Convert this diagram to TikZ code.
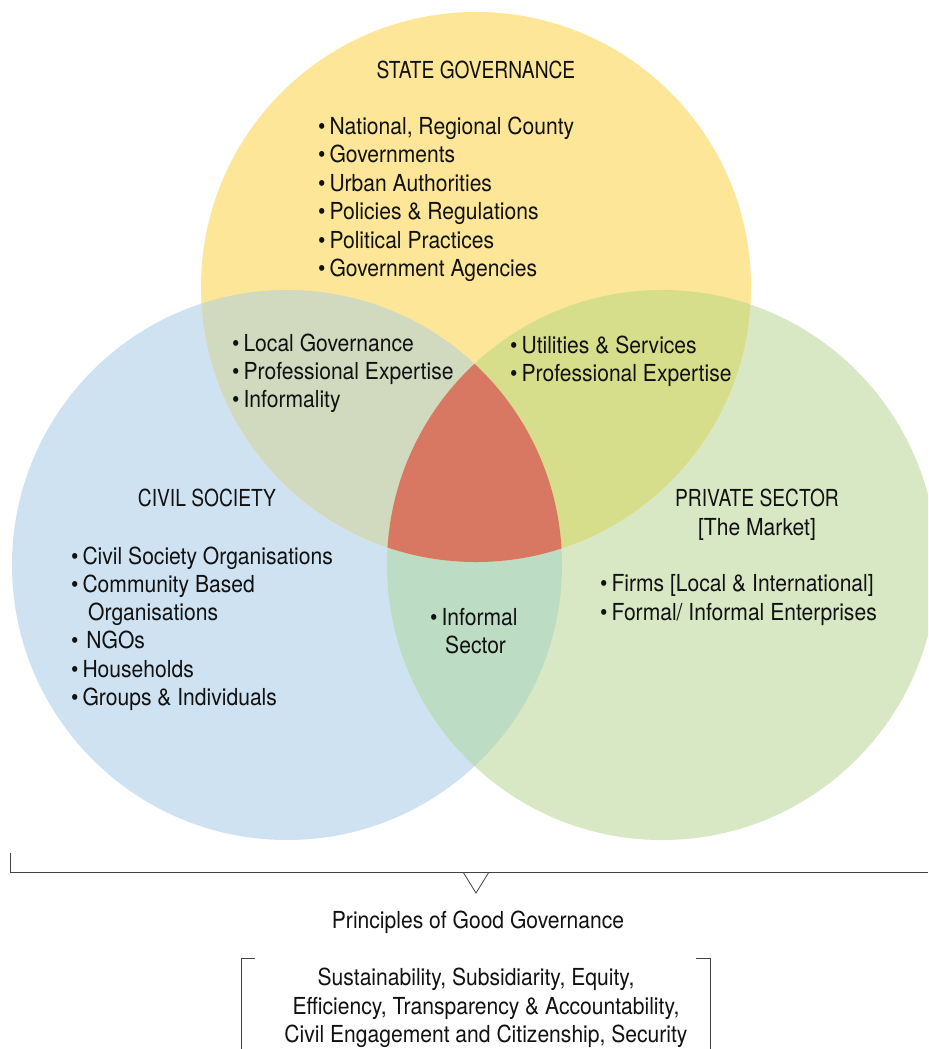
\documentclass[tikz,border=0pt]{standalone}
\usepackage{fontspec}
\setmainfont{TeX Gyre Heros}[FakeStretch=0.9]
\newfontfamily\capsfont{TeX Gyre Heros}[FakeStretch=0.82]
\definecolor{GGYellow}{HTML}{FDE698}
\definecolor{GGBlue}{HTML}{CFE2F2}
\definecolor{GGGreen}{HTML}{D8E8C4}
\definecolor{GGYellowBlue}{HTML}{D1D9BF}
\definecolor{GGYellowGreen}{HTML}{D6DD8B}
\definecolor{GGBlueGreen}{HTML}{BCDCC4}
\definecolor{GGRed}{HTML}{D97862}
\definecolor{GGText}{HTML}{111111}
\definecolor{GGLine}{HTML}{444444}
\tikzset{
  item/.style={anchor=mid west,inner sep=0pt,yshift=-0.13cm,text=GGText,font=\fontsize{20}{24}\selectfont},
  title/.style={anchor=mid,inner sep=0pt,yshift=-0.13cm,text=GGText,font=\fontsize{20}{24}\selectfont},
  captitle/.style={title,font=\fontsize{20}{24}\capsfont},
  rule/.style={GGLine,line width=0.7pt}
}
\begin{document}
\begin{tikzpicture}[x=0.03cm,y=-0.03cm]
\path[use as bounding box] (0,0) rectangle (928,1049);
\coordinate (sg) at (476,287);
\coordinate (cs) at (287,565);
\coordinate (ps) at (662,565);
% circles
\begin{scope}
\clip (0,0) rectangle (928,1049);
\fill[GGBlue] (cs) circle (8.25cm);
\fill[GGGreen] (ps) circle (8.25cm);
\fill[GGYellow] (sg) circle (8.25cm);
\begin{scope}
\clip (cs) circle (8.25cm);
\clip (ps) circle (8.25cm);
\fill[GGBlueGreen] (0,0) rectangle (928,1049);
\end{scope}
\begin{scope}
\clip (sg) circle (8.25cm);
\fill[GGYellowBlue] (cs) circle (8.25cm);
\fill[GGYellowGreen] (ps) circle (8.25cm);
\clip (cs) circle (8.25cm);
\fill[GGRed] (ps) circle (8.25cm);
\end{scope}
\end{scope}
% state governance
\node[captitle] (sgtitle) at (476,71) {STATE GOVERNANCE};
\foreach \txt [count=\i] in {{National, Regional County},Governments,Urban Authorities,
  Policies \& Regulations,Political Practices,Government Agencies}
  \node[item] (sg\i) at (318,127+28.4*\i-28.4) {\textbullet\,\txt};
% overlaps
\foreach \txt [count=\i] in {Local Governance,Professional Expertise,Informality}
  \node[item] (sc\i) at (232,344+28*\i-28) {\textbullet\,\txt};
\foreach \txt [count=\i] in {Utilities \& Services,Professional Expertise}
  \node[item] (sp\i) at (510,346+28*\i-28) {\textbullet\,\txt};
\node[item] (cp1) at (430,618) {\textbullet\,Informal};
\node[item] (cp2) at (445,646) {Sector};
% civil society
\node[captitle] (cstitle) at (207,499) {CIVIL SOCIETY};
\node[item] (cs1) at (71,557) {\textbullet\,Civil Society Organisations};
\node[item] (cs2) at (71,585) {\textbullet\,Community Based};
\node[item] (cs3) at (88,613) {Organisations};
\node[item] (cs4) at (71,641) {\textbullet\,\,NGOs};
\node[item] (cs5) at (71,670) {\textbullet\,Households};
\node[item] (cs6) at (71,698) {\textbullet\,Groups \& Individuals};
% private sector
\node[captitle] (pstitle) at (757,499) {PRIVATE SECTOR};
\node[title] (pssub) at (757,528) {[The Market]};
\node[item] (ps1) at (600,584) {\textbullet\,Firms [Local \& International]};
\node[item] (ps2) at (600,613) {\textbullet\,Formal/ Informal Enterprises};
% principles
\draw[rule] (10,853) -- (10,872) -- (928,872);
\draw[rule] (463,872) -- (476,893) -- (489,872);
\node[title] (pgg) at (478,921) {Principles of Good Governance};
\draw[rule] (255,958) -- (241,958) -- (241,1049);
\draw[rule] (696,958) -- (710,958) -- (710,1049);
\node[title] (pr1) at (476,978) {Sustainability, Subsidiarity, Equity,};
\node[title] (pr2) at (486,1007) {Efficiency, Transparency \& Accountability,};
\node[title] (pr3) at (486,1035) {Civil Engagement and Citizenship, Security};
\end{tikzpicture}
\end{document}
